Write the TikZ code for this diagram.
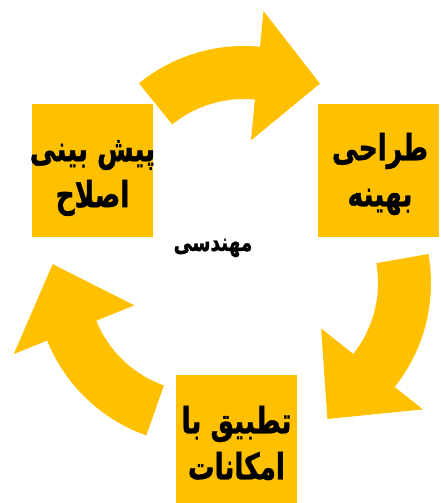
\documentclass[tikz,border=0pt]{standalone}
\usepackage{fontspec}
\usepackage{graphicx}
\newfontfamily\farsifont[Script=Arabic, FakeStretch=0.88, FakeBold=1.2]{DejaVu Sans}
\TeXXeTstate=1

\definecolor{gold}{HTML}{FFC000}

\tikzset{
  stage/.style={fill=gold, minimum width=121, minimum height=133, inner sep=0pt},
  stagetext/.style={align=center, inner sep=0pt, font=\farsifont\bfseries\fontsize{30}{46}\selectfont},
  hub/.style={font=\farsifont\bfseries\fontsize{21}{24}\selectfont},
  bandfill/.style={fill=gold}
}

% one right-to-left line, a little taller
\newcommand{\faline}[1]{\scalebox{1}[1.2]{\beginR #1\endR}}

% curved block arrow: centre, start angle, angle of the head base, angle of the tip
\newcommand{\cycarrow}[4]{%
  \fill[bandfill, shift={(#1)}] (#2:167) arc[start angle=#2, end angle=#3, radius=167]
    -- (#3:203) -- (#4:150) -- (#3:73) -- (#3:114)
    arc[start angle=#3, end angle=#2, radius=114] -- cycle;}

\begin{document}
\begin{tikzpicture}[x=1pt, y=1pt]

\useasboundingbox (0,0) rectangle (441,-503);

% Arrows
\cycarrow{244,-213}{129}{84.5}{59.6}
\cycarrow{264,-283}{10}{-38.5}{-65}
\cycarrow{202,-278}{250.5}{202}{174.7}

% Stages
\node[stage] (predict) at (92.5,-170.5) {};
\node[stage] (design) at (378.5,-170.5) {};
\node[stage] (adapt) at (236.5,-441.5) {};

\node[stagetext] (predicttext) at (92.5,-178) {\faline{پیش بینی}\\ \faline{اصلاح}};
\node[stagetext] (designtext) at (380,-174) {\faline{طراحی}\\ \faline{بهینه}};
\node[stagetext] (adapttext) at (236.5,-443) {\faline{تطبیق با}\\ \faline{امکانات}};

% Centre
\node[hub] (eng) at (213,-248) {\faline{مهندسی}};

\end{tikzpicture}
\end{document}
